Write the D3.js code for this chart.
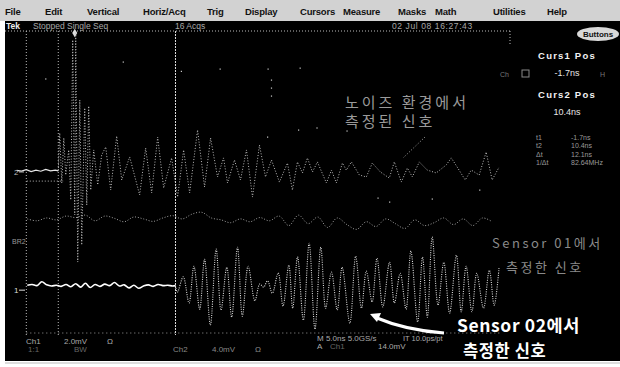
<!DOCTYPE html>
<html>
<head>
<meta charset="utf-8">
<script src="https://cdn.jsdelivr.net/npm/d3@7"></script>
<style>
  html, body { margin: 0; padding: 0; background: #fff; }
  svg { display: block; }
  text { font-family: "Liberation Sans", Arial, sans-serif; }
  .kr { font-family: "Noto Sans CJK KR", "Noto Sans", sans-serif; }
</style>
</head>
<body>
<div id="chart"></div>
<script>
// ---- data (time in ns, amplitude in mV) ----
const menuItems = ["File", "Edit", "Vertical", "Horiz/Acq", "Trig", "Display",
  "Cursors", "Measure", "Masks", "Math", "Utilities", "Help"];

const cursorTimes = [-1.7, 10.4];   // Curs1, Curs2
const hposTime = -5.0;              // horizontal position marker
const triggerTime = 0;

// Ch1 (Sensor 02), 2.0 mV/div
const ch1 = [
  [-4.9, 0.26], [-4.4, 0.30], [-3.9, 0.24], [-3.4, 0.44], [-2.9, 0.28], [-2.4, 0.22],
  [-1.9, 0.26], [-1.4, 0.20], [-0.9, 0.30], [-0.4, 0.18], [0.1, 0.34], [0.6, 0.16],
  [1.1, 0.36], [1.6, 0.14], [2.1, 0.30], [2.6, 0.20], [3.1, 0.32], [3.6, 0.24],
  [4.1, 0.40], [4.6, 0.22], [5.1, 0.28], [5.6, 0.12], [6.1, 0.26], [6.6, 0.10],
  [7.1, 0.22], [7.6, 0.28], [8.1, 0.20], [8.6, 0.30], [9.1, 0.24], [9.6, 0.26],
  [10.1, 0.22], [10.4, 0.24],
  [10.6, -0.11], [11.2, 0.70], [11.8, -0.68], [12.3, 1.26], [12.9, -1.0], [13.4, 1.63],
  [14.0, -1.84], [14.6, 2.16], [15.1, -1.05], [15.7, 1.21], [16.2, -1.42], [16.8, 2.26],
  [17.3, -1.37], [17.9, 1.26], [18.6, -0.56], [19.1, 0.32], [19.5, 0.16], [19.9, 0.49],
  [20.4, -0.16], [21.0, 0.91], [21.5, -0.84], [22.1, 1.32], [22.5, -0.95], [23.0, 1.75],
  [23.6, -1.58], [24.2, 2.47], [24.8, -2.05], [25.4, 2.26], [25.9, -0.95], [26.5, 0.95],
  [27.1, -1.05], [27.6, 1.21], [28.4, -1.74], [29.0, 1.79], [29.6, -0.95], [30.1, 1.0],
  [30.7, -0.62], [31.2, 1.68], [31.8, -0.88], [32.5, 1.47], [33.0, -0.67], [33.6, 0.89],
  [34.2, -1.0], [34.7, 2.07], [35.4, -1.67], [35.9, 1.74], [36.4, -1.42], [36.9, 2.79],
  [37.5, -0.79], [38.1, 1.47], [38.7, -1.21], [39.4, 1.84], [39.9, -1.14], [40.4, 1.26],
  [41.0, -1.14], [41.5, 0.89], [42.2, -0.95], [42.8, 1.05], [43.3, -0.79], [43.8, 1.16]
];

// Ch2 (noisy environment), 2.0 mV/div
const ch2 = [
  [-6.0, 0.08], [-5.5, 0.05], [-5.0, 0.12], [-4.5, 0.02], [-4.0, 0.10], [-3.5, 0.04],
  [-3.0, 0.14], [-2.5, 0.06], [-2.0, 0.10], [-1.7, 0.06],
  [-1.55, 2.05], [-1.34, -0.58], [-1.13, 1.79], [-0.93, -0.16], [-0.62, 1.16], [-0.41, -1.47],
  [-0.21, 6.95], [0, -2.26], [0.1, 7.32], [0.31, -4.74], [0.52, 3.79], [0.72, -3.84],
  [1.03, 3.37], [1.24, -1.74], [1.44, 3.47], [1.65, -0.95], [1.96, 1.16], [2.37, -0.68],
  [2.78, 0.89], [3.2, 1.32], [3.71, -0.95], [4.33, 1.89], [4.85, -0.42], [5.67, 0.79],
  [6.7, -1.21], [7.32, 1.26], [7.94, -1.1], [8.56, 1.84], [9.18, -0.84], [10.0, 0.74],
  [10.62, -1.32], [11.24, 1.16], [11.86, -1.1], [12.68, 2.21], [13.4, -0.79], [14.02, 1.79],
  [14.74, -0.26], [15.36, 0.74], [15.77, -0.58], [16.49, 0.63], [17.11, -0.42], [17.73, 1.16],
  [18.35, -1.32], [19.07, 1.42], [19.69, -0.26], [20.31, 0.63], [21.13, -0.53], [21.96, 0.47],
  [22.47, -0.95], [22.99, 0.53], [23.51, -0.05], [24.02, 0.74], [24.54, 0], [25.05, 0.53],
  [25.98, -0.58], [26.5, 0.1], [27.01, -0.58], [27.63, 0.47], [28.04, 0.1], [28.56, 0.53],
  [29.38, -0.16], [30.1, -0.26], [30.72, 0.47], [31.55, 0], [32.47, -0.32], [32.99, 0.53],
  [33.71, -0.53], [34.33, 0.21], [34.85, -0.26], [35.57, 0.53], [36.39, 0.1], [37.32, -0.05],
  [38.35, 0.37], [38.87, 0.74], [39.48, 0.26], [40.31, -0.42], [40.93, 0.1], [41.75, -0.16],
  [42.47, 1.05], [43.09, -0.42], [43.81, 0.26]
];

// stray samples left by the 16 acquisitions on Ch2
const ch2Dots = [
  [5.0, 5.79], [15.0, 5.42], [19.95, 5.42], [23.26, 5.47], [20.3, 4.84], [20.3, 4.42],
  [20.3, 4.0], [23.1, 2.21], [28.1, 2.16], [25.0, 2.32], [19.9, 1.84], [31.3, -1.37],
  [32.5, -1.58], [36.9, -1.42], [41.8, -0.95], [-3.0, 4.9], [11.0, 5.3]
];

// reference waveform, 2.0 mV/div
const ref2 = [
  [-4.9, 0.05], [-3.9, -0.05], [-2.9, 0.10], [-1.9, 0.0], [-0.9, 0.20], [0.1, 0.12],
  [1.1, 0.25], [2.1, -0.05], [3.1, 0.20], [4.1, 0.08], [5.1, -0.10], [6.1, 0.15],
  [7.1, 0.05], [8.1, -0.08], [9.1, 0.10], [10.1, 0.22], [11.1, 0.05], [12.1, 0.30],
  [13.1, 0.40], [14.1, 0.10], [15.1, 0.0], [16.1, -0.15], [17.1, 0.05], [18.1, -0.10],
  [19.1, 0.12], [20.1, -0.05], [21.1, 0.20], [22.1, -0.30], [23.1, 0.25], [24.1, -0.20],
  [25.1, 0.15], [26.1, -0.40], [27.1, 0.10], [28.1, -0.25], [29.1, -0.50], [30.1, -0.10],
  [31.1, -0.35], [32.1, 0.05], [33.1, -0.20], [34.1, -0.45], [35.1, 0.0], [36.1, -0.30],
  [37.1, -0.15], [38.1, 0.10], [39.1, -0.25], [40.1, 0.05], [41.1, -0.30], [42.1, 0.10],
  [43.1, -0.10]
];
const ref1 = [[-4.95, 0], [-3.0, 0], [-1.2, 0]];

const noteNoise = ["노이즈 환경에서", "측정된 신호"];
const noteS1 = ["Sensor 01에서", "측정한 신호"];
const noteS2 = ["Sensor 02에서", "측정한 신호"];

// ---- layout ----
const W = 620, H = 367;
const svg = d3.select("#chart").append("svg").attr("width", W).attr("height", H);

svg.append("rect").attr("width", W).attr("height", H).attr("fill", "#fff");
// menu bar
svg.append("rect").attr("x", 0).attr("y", 0).attr("width", W).attr("height", 21).attr("fill", "#d2d2d2");
// screen
svg.append("rect").attr("x", 5).attr("y", 21).attr("width", W - 5).attr("height", 340).attr("fill", "#000");
svg.append("line").attr("x1", 5).attr("x2", W).attr("y1", 363).attr("y2", 363)
  .attr("stroke", "#bbb").attr("stroke-width", 1);

const menuLeft = [5, 45, 87, 143, 207, 245, 300, 343, 398, 435, 493, 547];
svg.append("g").selectAll("text").data(menuItems).join("text")
  .attr("x", (d, i) => menuLeft[i]).attr("y", 14.5)
  .attr("font-size", 9.5).attr("font-weight", "bold").attr("fill", "#111")
  .attr("letter-spacing", -0.2)
  .text(d => d);

// status line
const status = svg.append("g").attr("fill", "#a8a8a8").attr("font-size", 8.5);
status.append("text").attr("x", 6).attr("y", 29).attr("fill", "#eee").attr("font-weight", "bold").text("Tek");
status.append("text").attr("x", 33).attr("y", 29).text("Stopped Single Seq");
status.append("text").attr("x", 175).attr("y", 29).text("16 Acqs");
status.append("text").attr("x", 392).attr("y", 29).attr("letter-spacing", 0.6).text("02 Jul 08 16:27:43");

// scales
const x = d3.scaleLinear().domain([-7.2, 43.9]).range([5, 500]);
const yDiv = d3.scaleLinear().domain([-4, 4]).range([335, 31]);
const chan = (posDiv, mvPerDiv) => d3.scaleLinear()
  .domain([0, mvPerDiv]).range([yDiv(posDiv), yDiv(posDiv + 1)]);
const y1 = chan(-2.82, 2.0);
const y2 = chan(0.29, 2.0);
const yR2 = chan(-0.97, 2.0);
const yR1 = chan(0.05, 2.0);

// graticule edges (dotted)
const dot = "1,2";
svg.append("line").attr("x1", 5).attr("x2", 510).attr("y1", yDiv(4)).attr("y2", yDiv(4))
  .attr("stroke", "#bbb").attr("stroke-dasharray", dot);
svg.append("line").attr("x1", 510).attr("x2", 510).attr("y1", yDiv(4)).attr("y2", 45)
  .attr("stroke", "#bbb").attr("stroke-dasharray", dot);
svg.append("line").attr("x1", x(hposTime)).attr("x2", 500).attr("y1", yDiv(-4) - 2).attr("y2", yDiv(-4) - 2)
  .attr("stroke", "#999").attr("stroke-dasharray", "1,3");

// vertical marker + cursor lines
svg.append("g").selectAll("line").data([hposTime, ...cursorTimes]).join("line")
  .attr("x1", d => x(d)).attr("x2", d => x(d))
  .attr("y1", yDiv(4)).attr("y2", yDiv(-4))
  .attr("stroke", (d, i) => i === 2 ? "#ddd" : "#bbb")
  .attr("stroke-width", 1)
  .attr("stroke-dasharray", (d, i) => i === 2 ? "2,1" : "1,2");

// trigger marker
svg.append("path")
  .attr("d", d3.symbol(d3.symbolDiamond, 22)())
  .attr("transform", `translate(${x(triggerTime)},${yDiv(4) + 2})`)
  .attr("fill", "#ddd");

const lin = (ys) => d3.line().x(d => x(d[0])).y(d => ys(d[1]));
const smooth = (ys) => d3.line().curve(d3.curveCatmullRom.alpha(0.5)).x(d => x(d[0])).y(d => ys(d[1]));

// reference traces
svg.append("path").datum(ref1).attr("d", lin(yR1))
  .attr("fill", "none").attr("stroke", "#bbb").attr("stroke-dasharray", "1,2");
svg.append("path").datum(ref2).attr("d", smooth(yR2))
  .attr("fill", "none").attr("stroke", "#a0a0a0").attr("stroke-width", 1).attr("stroke-dasharray", "1,1.8");

// Ch2
svg.append("path").datum(ch2.filter(d => d[0] <= cursorTimes[0])).attr("d", lin(y2))
  .attr("fill", "none").attr("stroke", "#e6e6e6").attr("stroke-width", 1.2);
svg.append("path").datum(ch2.filter(d => d[0] >= cursorTimes[0])).attr("d", lin(y2))
  .attr("fill", "none").attr("stroke", "#bdbdbd").attr("stroke-width", 1).attr("stroke-dasharray", "1,1.8");
svg.append("g").selectAll("rect").data(ch2Dots).join("rect")
  .attr("x", d => x(d[0]) - 0.5).attr("y", d => y2(d[1]) - 0.5)
  .attr("width", 1.2).attr("height", 1.2).attr("fill", "#ccc");

// Ch1
svg.append("path").datum(ch1.filter(d => d[0] <= cursorTimes[1])).attr("d", smooth(y1))
  .attr("fill", "none").attr("stroke", "#fff").attr("stroke-width", 1.6);
svg.append("path").datum(ch1.filter(d => d[0] >= cursorTimes[1])).attr("d", smooth(y1))
  .attr("fill", "none").attr("stroke", "#dedede").attr("stroke-width", 1.1).attr("stroke-dasharray", "1,1.3");

// ground markers
const marks = svg.append("g").attr("fill", "#bbb").attr("font-size", 8);
marks.append("text").attr("x", 14).attr("y", y2(0) + 3).text("2");
marks.append("line").attr("x1", 19).attr("x2", 24).attr("y1", y2(0)).attr("y2", y2(0)).attr("stroke", "#bbb");
marks.append("text").attr("x", 14).attr("y", y1(0) + 3).attr("fill", "#ddd").text("1");
marks.append("line").attr("x1", 19).attr("x2", 25).attr("y1", y1(0)).attr("y2", y1(0)).attr("stroke", "#ddd");
marks.append("text").attr("x", 12).attr("y", 244).attr("font-size", 7).attr("fill", "#999").text("BR2");

// right readout panel
const panel = svg.append("g");
panel.append("ellipse").attr("cx", 598).attr("cy", 34).attr("rx", 21).attr("ry", 7).attr("fill", "#d8d8d8");
panel.append("text").attr("x", 598).attr("y", 37).attr("text-anchor", "middle")
  .attr("font-size", 8).attr("font-weight", "bold").attr("fill", "#111").text("Buttons");
const fmt = d => `${d}ns`;
const curs = [
  { title: "Curs1 Pos", value: fmt(cursorTimes[0]), y: 59 },
  { title: "Curs2 Pos", value: fmt(cursorTimes[1]), y: 98 }
];
curs.forEach(c => {
  panel.append("text").attr("x", 567).attr("y", c.y).attr("text-anchor", "middle")
    .attr("font-size", 9.5).attr("font-weight", "bold").attr("letter-spacing", 1.2)
    .attr("fill", "#f2f2f2").text(c.title);
  panel.append("text").attr("x", 567).attr("y", c.y + 17).attr("text-anchor", "middle")
    .attr("font-size", 9).attr("fill", "#e6e6e6").text(c.value);
});
panel.append("text").attr("x", 500).attr("y", 77).attr("font-size", 7).attr("fill", "#777").text("Ch");
panel.append("rect").attr("x", 522).attr("y", 70).attr("width", 7).attr("height", 7)
  .attr("fill", "none").attr("stroke", "#888");
panel.append("text").attr("x", 600).attr("y", 77).attr("font-size", 7).attr("fill", "#777").text("H");
const dt = cursorTimes[1] - cursorTimes[0];
const readout = [
  ["t1", fmt(cursorTimes[0])],
  ["t2", fmt(cursorTimes[1])],
  ["Δt", fmt(dt.toFixed(1))],
  ["1/Δt", `${(1000 / dt).toFixed(2)}MHz`]
];
const ro = panel.append("g").attr("font-size", 7).attr("fill", "#9a9a9a");
ro.selectAll(".k").data(readout).join("text").attr("class", "k")
  .attr("x", 536).attr("y", (d, i) => 140 + i * 8.3).text(d => d[0]);
ro.selectAll(".v").data(readout).join("text").attr("class", "v")
  .attr("x", 571).attr("y", (d, i) => 140 + i * 8.3).text(d => d[1]);

// bottom settings readout
const bot = svg.append("g").attr("font-size", 8).attr("fill", "#aaa");
bot.append("text").attr("x", 26).attr("y", 344).text("Ch1");
bot.append("text").attr("x", 64).attr("y", 344).text("2.0mV");
bot.append("text").attr("x", 107).attr("y", 344).text("Ω");
bot.append("text").attr("x", 28).attr("y", 352).attr("fill", "#666").text("1:1");
bot.append("text").attr("x", 74).attr("y", 352).attr("fill", "#666").text("BW");
bot.append("text").attr("x", 173).attr("y", 352).attr("fill", "#888").text("Ch2");
bot.append("text").attr("x", 212).attr("y", 352).attr("fill", "#888").text("4.0mV");
bot.append("text").attr("x", 255).attr("y", 352).attr("fill", "#888").text("Ω");
bot.append("text").attr("x", 317).attr("y", 341).text("M 5.0ns 5.0GS/s");
bot.append("text").attr("x", 403).attr("y", 341).attr("font-size", 7.5).text("IT 10.0ps/pt");
bot.append("text").attr("x", 317).attr("y", 349).text("A");
bot.append("text").attr("x", 330).attr("y", 349).attr("fill", "#666").text("Ch1");
bot.append("text").attr("x", 378).attr("y", 349).text("14.0mV");

// annotations: one text element per note, one tspan per line
const note = (lines, x0, ys, sizes, fill, weight, spacing) => {
  svg.append("text")
    .attr("class", "kr")
    .attr("font-weight", weight).attr("fill", fill)
    .attr("letter-spacing", spacing)
    .selectAll("tspan").data(lines).join("tspan")
    .attr("x", (d, i) => x0[i]).attr("y", (d, i) => ys[i])
    .attr("font-size", (d, i) => sizes[i])
    .text(d => d);
};
note(noteNoise, [345, 345], [108, 127], [15, 15], "#9a9a9a", "normal", 3);
svg.append("line").attr("x1", 425).attr("y1", 137).attr("x2", 403).attr("y2", 158)
  .attr("stroke", "#aaa").attr("stroke-dasharray", "1,2");
note(noteS1, [492, 506], [248, 272], [13, 13], "#8a8a8a", "normal", 2.5);
note(noteS2, [457, 463], [332, 356.5], [17.5, 16.5], "#fff", "bold", 0.6);

// white curved arrow to the Ch1 burst
svg.append("path").attr("d", "M444,333 Q405,330 377,318")
  .attr("fill", "none").attr("stroke", "#fff").attr("stroke-width", 3);
svg.append("path").attr("d", "M370,314 L381,313 L377,322 Z").attr("fill", "#fff");
</script>
</body>
</html>
